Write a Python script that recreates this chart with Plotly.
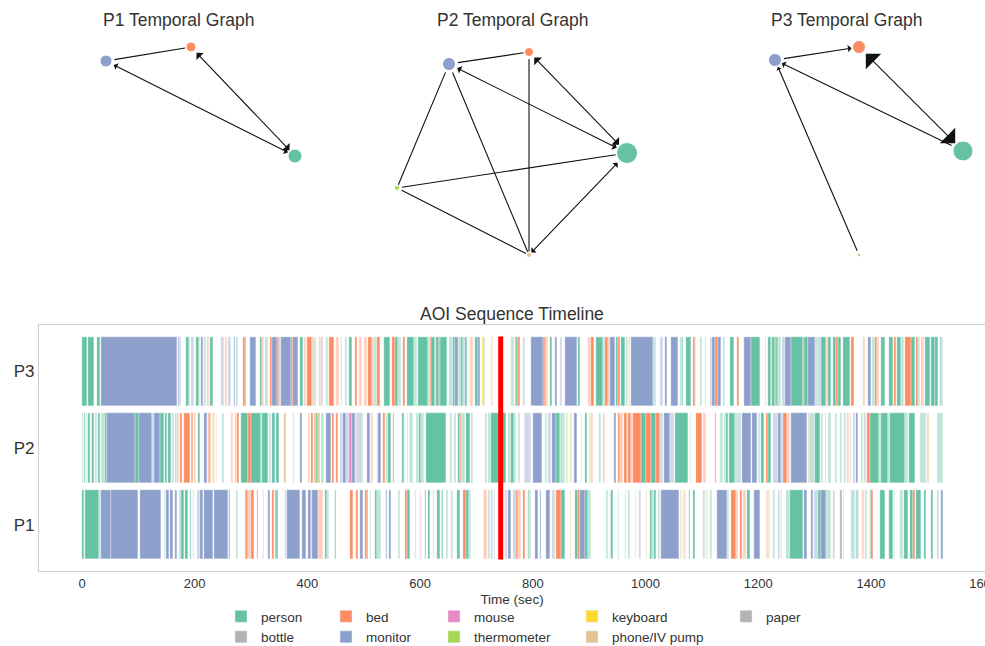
import plotly.graph_objects as go

# ---------------- data ----------------
aoi_names = ["person", "bed", "mouse", "keyboard", "paper",
             "bottle", "monitor", "thermometer", "phone/IV pump"]
aoi_colors = ["#66c2a5", "#fc8d62", "#e78ac3", "#ffd92f", "#b3b3b3",
              "#b3b3b3", "#8da0cb", "#a6d854", "#e5c494"]
aoi_codes = ["p", "b", "u", "k", "x", "o", "m", "t", "i"]

participants = ["P1", "P2", "P3"]
marker_time = 743  # sec

# (start_sec, end_sec, code) ; upper-case code = low-confidence fixation
P1_segments = [
    (0,4,'p'),(5,30,'p'),(30,34,'P'),(34,51,'m'),(52,99,'m'),(103,140,'m'),(146,147,'M'),(149,154,'m'),
    (156,161,'m'),(165,169,'m'),(172,176,'P'),(176,181,'p'),(183,188,'p'),(192,194,'p'),(197,199,'P'),
    (204,210,'M'),(210,215,'m'),(216,233,'m'),(234,259,'m'),(261,263,'m'),(273,277,'P'),(289,291,'p'),
    (291,295,'b'),(295,300,'B'),(300,305,'b'),(310,312,'b'),(321,323,'P'),(330,333,'m'),(337,340,'b'),
    (343,345,'b'),(345,348,'p'),(360,364,'M'),(364,387,'m'),(391,398,'m'),(401,406,'m'),(406,409,'M'),
    (409,418,'m'),(418,428,'B'),(431,434,'p'),(434,438,'P'),(449,451,'p'),(476,481,'b'),(486,490,'b'),
    (493,498,'m'),(502,505,'b'),(505,508,'p'),(511,513,'P'),(520,524,'p'),(524,531,'P'),(540,542,'m'),
    (545,549,'m'),(561,564,'P'),(573,576,'b'),(576,582,'p'),(591,593,'P'),(600,602,'B'),(609,611,'p'),
    (614,617,'p'),(623,625,'P'),(630,635,'p'),(637,639,'k'),(639,641,'p'),(646,650,'P'),(655,658,'P'),
    (665,670,'p'),(676,682,'b'),(682,686,'p'),(686,690,'P'),(713,715,'b'),(715,719,'B'),(720,724,'P'),
    (726,729,'M'),(731,733,'M'),(751,754,'M'),(756,761,'m'),(765,770,'M'),(770,774,'b'),(774,779,'B'),
    (783,786,'b'),(791,794,'p'),(794,797,'P'),(804,809,'m'),(813,815,'m'),(823,830,'m'),(834,839,'M'),
    (841,850,'b'),(850,857,'p'),(866,868,'B'),(875,880,'p'),(880,884,'b'),(884,893,'m'),(893,898,'p'),
    (898,903,'P'),(930,933,'P'),(937,939,'P'),(939,942,'p'),(951,953,'P'),(964,965,'M'),(969,972,'P'),
    (981,983,'I'),(988,992,'M'),(1001,1003,'I'),(1008,1012,'p'),(1012,1015,'P'),(1015,1019,'p'),
    (1022,1026,'P'),(1028,1059,'m'),(1061,1065,'I'),(1066,1072,'I'),(1077,1079,'p'),(1084,1088,'p'),
    (1102,1106,'P'),(1108,1111,'I'),(1114,1118,'P'),(1127,1145,'m'),(1145,1148,'P'),(1152,1161,'b'),
    (1161,1164,'B'),(1168,1171,'b'),(1173,1178,'B'),(1180,1185,'p'),(1192,1203,'m'),(1214,1221,'I'),
    (1226,1230,'P'),(1235,1239,'M'),(1240,1242,'M'),(1249,1256,'P'),(1256,1280,'p'),(1281,1287,'m'),
    (1294,1297,'m'),(1299,1306,'M'),(1306,1311,'p'),(1311,1320,'m'),(1320,1329,'P'),(1333,1336,'M'),
    (1345,1348,'x'),(1351,1352,'P'),(1365,1372,'P'),(1374,1376,'p'),(1376,1379,'M'),(1384,1388,'B'),
    (1390,1393,'P'),(1398,1401,'p'),(1401,1404,'b'),(1416,1425,'p'),(1432,1439,'p'),(1441,1443,'P'),
    (1452,1457,'P'),(1459,1466,'p'),(1469,1475,'p'),(1475,1478,'b'),(1480,1489,'p'),(1494,1498,'p'),
    (1507,1510,'p'),(1517,1521,'P'),(1525,1528,'m'),
]

P2_segments = [
    (0,2,'P'),(3,5,'p'),(7,9,'P'),(11,14,'p'),(16,18,'P'),(18,21,'p'),(23,27,'P'),(28,32,'p'),(33,40,'P'),
    (40,44,'p'),(44,94,'m'),(94,101,'p'),(101,124,'m'),(124,128,'M'),(128,138,'m'),(138,146,'p'),
    (147,151,'p'),(153,158,'p'),(160,163,'M'),(165,168,'P'),(169,172,'B'),(174,177,'b'),(181,192,'b'),
    (193,195,'p'),(195,197,'b'),(199,202,'B'),(206,209,'p'),(216,222,'m'),(224,226,'b'),(226,229,'i'),
    (231,236,'I'),(237,240,'I'),(248,252,'P'),(265,268,'B'),(271,275,'B'),(275,279,'b'),(282,295,'p'),
    (295,300,'b'),(300,318,'p'),(318,320,'P'),(320,330,'p'),(332,335,'P'),(337,342,'p'),(344,350,'p'),
    (358,362,'i'),(374,376,'M'),(387,391,'m'),(401,405,'B'),(406,410,'b'),(412,416,'i'),(416,419,'p'),
    (419,422,'i'),(424,429,'P'),(433,442,'m'),(444,447,'b'),(451,454,'b'),(458,463,'M'),(463,469,'m'),
    (469,474,'M'),(474,479,'u'),(479,484,'m'),(484,489,'U'),(489,492,'p'),(492,499,'M'),(506,511,'m'),
    (513,516,'B'),(523,525,'M'),(525,531,'m'),(534,538,'b'),(540,543,'P'),(543,548,'p'),(552,553,'b'),
    (568,571,'p'),(577,579,'P'),(582,584,'p'),(584,587,'P'),(593,598,'P'),(598,602,'p'),(602,607,'P'),
    (610,646,'p'),(653,657,'P'),(660,664,'M'),(667,670,'p'),(670,673,'b'),(673,679,'P'),(681,688,'p'),
    (690,693,'M'),(715,718,'P'),(720,726,'P'),(726,752,'p'),(756,762,'P'),(762,766,'p'),(766,770,'P'),
    (773,777,'P'),(784,787,'U'),(787,797,'M'),(800,816,'m'),(821,825,'P'),(827,832,'M'),(834,841,'m'),
    (841,848,'p'),(848,857,'P'),(859,862,'T'),(866,870,'T'),(873,878,'m'),(886,888,'P'),(893,896,'p'),
    (900,903,'I'),(903,907,'B'),(918,921,'P'),(925,928,'B'),(944,948,'m'),(951,955,'b'),(955,960,'B'),
    (962,967,'b'),(967,969,'B'),(969,974,'b'),(974,978,'B'),(978,992,'b'),(992,1001,'p'),(1001,1010,'b'),
    (1010,1019,'p'),(1019,1026,'b'),(1026,1031,'M'),(1033,1043,'m'),(1043,1050,'M'),(1052,1075,'p'),
    (1079,1081,'P'),(1090,1100,'b'),(1102,1107,'B'),(1123,1125,'b'),(1132,1137,'P'),(1139,1143,'P'),
    (1143,1146,'p'),(1148,1159,'p'),(1159,1164,'P'),(1164,1170,'M'),(1171,1187,'m'),(1189,1198,'m'),
    (1200,1203,'P'),(1205,1210,'p'),(1214,1218,'b'),(1218,1223,'p'),(1226,1235,'M'),(1235,1240,'m'),
    (1240,1244,'M'),(1244,1251,'b'),(1251,1256,'B'),(1258,1287,'m'),(1288,1291,'B'),(1291,1301,'P'),
    (1301,1310,'p'),(1311,1315,'P'),(1318,1321,'P'),(1324,1329,'P'),(1336,1339,'P'),(1345,1348,'P'),
    (1352,1356,'P'),(1358,1361,'B'),(1363,1365,'M'),(1368,1371,'M'),(1374,1377,'m'),(1382,1386,'P'),
    (1388,1391,'M'),(1393,1398,'b'),(1398,1415,'p'),(1415,1418,'P'),(1418,1430,'p'),(1430,1433,'P'),
    (1433,1460,'p'),(1460,1466,'P'),(1468,1478,'p'),(1487,1498,'P'),(1500,1503,'B'),(1517,1528,'P'),
]

P3_segments = [
    (0,9,'p'),(10,21,'p'),(27,32,'p'),(33,169,'m'),(170,172,'m'),(173,176,'M'),(185,189,'p'),(189,192,'P'),
    (193,199,'M'),(202,208,'p'),(208,210,'B'),(211,215,'m'),(216,220,'P'),(221,226,'B'),(227,232,'p'),
    (247,252,'M'),(254,257,'B'),(259,264,'M'),(270,272,'m'),(273,277,'P'),(286,289,'b'),(289,291,'p'),
    (298,309,'m'),(315,320,'p'),(320,323,'B'),(325,330,'P'),(333,337,'b'),(338,346,'m'),(346,349,'b'),
    (350,353,'M'),(353,371,'m'),(371,374,'b'),(374,383,'m'),(387,392,'p'),(394,397,'B'),(400,408,'b'),
    (408,411,'B'),(411,416,'P'),(420,425,'B'),(425,428,'M'),(433,437,'P'),(438,447,'b'),(451,456,'B'),
    (459,462,'P'),(466,470,'P'),(474,479,'p'),(484,488,'b'),(491,496,'B'),(500,505,'B'),(508,514,'b'),
    (514,518,'B'),(519,524,'P'),(524,528,'b'),(536,547,'p'),(550,556,'b'),(556,560,'p'),(561,566,'P'),
    (570,573,'b'),(577,590,'p'),(590,595,'P'),(597,614,'p'),(614,618,'P'),(618,620,'b'),(620,626,'p'),
    (626,628,'B'),(628,634,'p'),(634,636,'b'),(636,648,'p'),(652,658,'P'),(658,662,'p'),(662,668,'m'),
    (668,672,'P'),(672,676,'p'),(676,680,'M'),(680,684,'p'),(689,694,'B'),(697,702,'p'),(702,706,'m'),
    (710,712,'k'),(712,715,'P'),(726,729,'I'),(761,767,'P'),(768,771,'b'),(771,774,'p'),(774,777,'b'),
    (783,786,'M'),(797,818,'m'),(818,822,'b'),(822,824,'p'),(824,827,'B'),(830,834,'p'),(839,843,'m'),
    (848,852,'M'),(857,878,'m'),(880,884,'p'),(898,903,'B'),(903,908,'b'),(912,925,'p'),(925,928,'P'),
    (928,933,'b'),(933,937,'B'),(937,946,'m'),(948,951,'p'),(951,955,'b'),(957,964,'p'),(965,969,'P'),
    (971,973,'k'),(974,1013,'m'),(1013,1019,'P'),(1026,1031,'M'),(1035,1038,'m'),(1045,1058,'m'),
    (1061,1064,'P'),(1064,1067,'p'),(1072,1081,'p'),(1084,1087,'b'),(1087,1090,'B'),(1097,1100,'P'),
    (1106,1108,'P'),(1114,1118,'M'),(1118,1124,'m'),(1124,1128,'b'),(1128,1134,'m'),(1138,1141,'P'),
    (1150,1157,'p'),(1162,1166,'b'),(1175,1187,'m'),(1187,1203,'p'),(1212,1214,'M'),(1218,1222,'p'),
    (1222,1225,'P'),(1225,1230,'p'),(1230,1232,'b'),(1232,1236,'p'),(1236,1240,'P'),(1242,1248,'M'),
    (1248,1258,'m'),(1258,1280,'p'),(1280,1281,'b'),(1281,1288,'p'),(1288,1301,'m'),(1301,1306,'P'),
    (1306,1311,'M'),(1311,1320,'p'),(1320,1324,'B'),(1324,1329,'p'),(1333,1338,'p'),(1338,1341,'b'),
    (1341,1347,'p'),(1351,1363,'p'),(1365,1370,'b'),(1386,1389,'B'),(1395,1400,'m'),(1402,1407,'P'),
    (1407,1410,'b'),(1410,1414,'B'),(1418,1425,'p'),(1432,1439,'p'),(1441,1445,'b'),(1446,1453,'p'),
    (1453,1459,'P'),(1460,1471,'b'),(1471,1478,'p'),(1480,1484,'b'),(1484,1487,'P'),(1489,1494,'B'),
    (1496,1505,'p'),(1507,1514,'p'),(1514,1519,'p'),(1523,1525,'p'),(1525,1528,'M'),
]

# temporal graphs: node layout coordinates, dwell weights, and edges (src, dst, direction, weight)
P1_nodes = ["monitor", "bed", "person"]
P1_node_x = [-0.72, 0.13, 1.17]
P1_node_y = [0.94, 1.08, -0.01]
P1_node_dwell = [64, 44, 87]
P1_edges = [("monitor", "bed", "none", 1.0), ("monitor", "person", "both", 1.0),
            ("bed", "person", "both", 1.4)]

P2_nodes = ["monitor", "bed", "person", "thermometer", "phone/IV pump"]
P2_node_x = [-0.63, 0.17, 1.15, -1.15, 0.17]
P2_node_y = [0.91, 1.03, 0.02, -0.33, -1.00]
P2_node_dwell = [75, 36, 196, 11, 11]
P2_edges = [("monitor", "bed", "none", 1.0), ("bed", "person", "both", 1.5),
            ("monitor", "person", "both", 1.1), ("monitor", "thermometer", "none", 1.0),
            ("monitor", "phone/IV pump", "none", 1.0), ("bed", "phone/IV pump", "none", 1.0),
            ("thermometer", "person", "none", 1.0), ("thermometer", "phone/IV pump", "none", 1.0),
            ("person", "phone/IV pump", "both", 1.0)]

P3_nodes = ["monitor", "bed", "person", "phone/IV pump"]
P3_node_x = [-0.71, 0.13, 1.17, 0.13]
P3_node_y = [0.95, 1.08, 0.04, -1.00]
P3_node_dwell = [75, 75, 178, 7]
P3_edges = [("monitor", "bed", "fwd", 1.0), ("bed", "person", "both", 3.0),
            ("person", "monitor", "fwd", 1.0), ("phone/IV pump", "monitor", "fwd", 0.8)]

# ---------------- figure ----------------
W, H = 985, 646
FONT = "Liberation Sans, Arial, sans-serif"
TXT = "#333333"
name_color = dict(zip(aoi_names, aoi_colors))


def rgba(hexc, a):
    h = hexc.lstrip("#")
    return "rgba(%d,%d,%d,%.2f)" % (int(h[0:2], 16), int(h[2:4], 16), int(h[4:6], 16), a)


def px_x(p):
    return p / W


def px_y(p):
    return (H - p) / H


fig = go.Figure()

rows = [P1_segments, P2_segments, P3_segments]
for code, name, col in zip(aoi_codes, aoi_names, aoi_colors):
    base, dur, ys, cols = [], [], [], []
    for ri, segs in enumerate(rows):
        for s, e, c in segs:
            if c.lower() != code:
                continue
            base.append(s)
            dur.append(e - s)
            ys.append(ri)
            cols.append(rgba(col, 1.0 if c.islower() else 0.42))
    if base:
        fig.add_trace(go.Bar(x=dur, base=base, y=ys, orientation="h", width=0.9,
                             marker=dict(color=cols, line=dict(width=0.3, color="white")),
                             showlegend=False, hoverinfo="skip", xaxis="x", yaxis="y"))

# legend-only entries, arranged in 5 columns
legend_cols = [["person", "bottle"], ["bed", "monitor"], ["mouse", "thermometer"],
               ["keyboard", "phone/IV pump"], ["paper"]]
legend_text_x = [261, 366, 474, 612, 766]
for li, names in enumerate(legend_cols):
    lname = "legend" if li == 0 else "legend%d" % (li + 1)
    for n in names:
        fig.add_trace(go.Bar(x=[None], y=[None], name=n, marker=dict(color=name_color[n]),
                             orientation="h", legend=lname, showlegend=True,
                             xaxis="x", yaxis="y"))

# temporal graphs
graphs = [("P1", P1_nodes, P1_node_x, P1_node_y, P1_node_dwell, P1_edges),
          ("P2", P2_nodes, P2_node_x, P2_node_y, P2_node_dwell, P2_edges),
          ("P3", P3_nodes, P3_node_x, P3_node_y, P3_node_dwell, P3_edges)]
col_px = [(11, 345), (345, 679), (679, 985)]
centers = [178, 512, 846]
annotations = []
for gi, (pname, nodes, nx, ny, dw, edges) in enumerate(graphs):
    ax_id = gi + 2
    xr, yr = "x%d" % ax_id, "y%d" % ax_id
    sizes = [1.5 * (d ** 0.5) for d in dw]
    pos = {n: (x, y) for n, x, y in zip(nodes, nx, ny)}
    rad = {n: s / 2 for n, s in zip(nodes, sizes)}
    for src, dst, direction, w in edges:
        x0, y0 = pos[src]
        x1, y1 = pos[dst]
        annotations.append(dict(
            x=x1, y=y1, ax=x0, ay=y0, xref=xr, yref=yr, axref=xr, ayref=yr, text="",
            showarrow=True, arrowhead=1 if direction != "none" else 0,
            startarrowhead=1,
            arrowside="end+start" if direction == "both" else ("end" if direction == "fwd" else "none"),
            arrowsize=w * 1.1, startarrowsize=w * 1.1, arrowwidth=1.1, arrowcolor="#111111",
            standoff=rad[dst] + 1, startstandoff=rad[src] + 1))
    fig.add_trace(go.Scatter(
        x=nx, y=ny, mode="markers", xaxis=xr, yaxis=yr, showlegend=False, hoverinfo="text",
        text=nodes,
        marker=dict(size=sizes, color=[name_color[n] for n in nodes],
                    line=dict(width=1, color="white"), opacity=1)))
    annotations.append(dict(text="%s Temporal Graph" % pname, x=px_x(centers[gi]), y=px_y(20),
                            xref="paper", yref="paper", showarrow=False, xanchor="center",
                            yanchor="middle", font=dict(size=17.5, color=TXT, family=FONT)))

annotations.append(dict(text="AOI Sequence Timeline", x=px_x(512), y=px_y(314), xref="paper",
                        yref="paper", showarrow=False, xanchor="center", yanchor="middle",
                        font=dict(size=17.5, color=TXT, family=FONT)))

layout = dict(
    width=W, height=H, autosize=False,
    margin=dict(l=0, r=0, t=0, b=0, pad=0, autoexpand=False),
    paper_bgcolor="white", plot_bgcolor="white",
    font=dict(family=FONT, color=TXT),
    barmode="overlay", bargap=0,
    xaxis=dict(domain=[px_x(39), 1.0], range=[(39 - 82) * 1.7746, (985 - 82) * 1.7746],
               tickvals=[0, 200, 400, 600, 800, 1000, 1200, 1400, 1600],
               ticklabeloverflow="allow",
               showgrid=False, zeroline=False, showline=True, mirror=True, automargin=False,
               linecolor="#cccccc", linewidth=1.3, ticks="", tickfont=dict(size=13, color=TXT),
               title=dict(text="Time (sec)", font=dict(size=13.5, color=TXT), standoff=4),
               anchor="y"),
    yaxis=dict(domain=[px_y(571), px_y(325)], range=[-0.6, 2.6], tickvals=[0, 1, 2],
               ticktext=participants, showgrid=False, zeroline=False, showline=True,
               automargin=False,
               linecolor="#cccccc", linewidth=1.3, ticks="", tickfont=dict(size=17, color=TXT),
               anchor="x"),
    shapes=[dict(type="line", xref="x", yref="y", x0=marker_time, x1=marker_time,
                 y0=-0.45, y1=2.45, line=dict(color="#ff0000", width=5), layer="above")],
    annotations=annotations,
)
for gi in range(3):
    ax_id = gi + 2
    a, b = col_px[gi]
    c = centers[gi]
    layout["xaxis%d" % ax_id] = dict(domain=[px_x(a), px_x(b)], range=[(a - c) / 100, (b - c) / 100],
                                     visible=False, anchor="y%d" % ax_id)
    layout["yaxis%d" % ax_id] = dict(domain=[px_y(280), px_y(30)], range=[-1.25, 1.25],
                                     visible=False, anchor="x%d" % ax_id)

for li, tx in enumerate(legend_text_x):
    lname = "legend" if li == 0 else "legend%d" % (li + 1)
    layout[lname] = dict(x=px_x(tx - 40), y=px_y(601), xanchor="left", yanchor="top",
                         orientation="v", bgcolor="rgba(0,0,0,0)", borderwidth=0,
                         font=dict(size=13.5, color=TXT, family=FONT), tracegroupgap=0,
                         itemclick=False, itemdoubleclick=False)

fig.update_layout(**layout)
fig.write_html("out.html",
               config={"responsive": False, "displayModeBar": False},
               post_script="document.body.style.margin='0';document.body.style.overflow='hidden';")
